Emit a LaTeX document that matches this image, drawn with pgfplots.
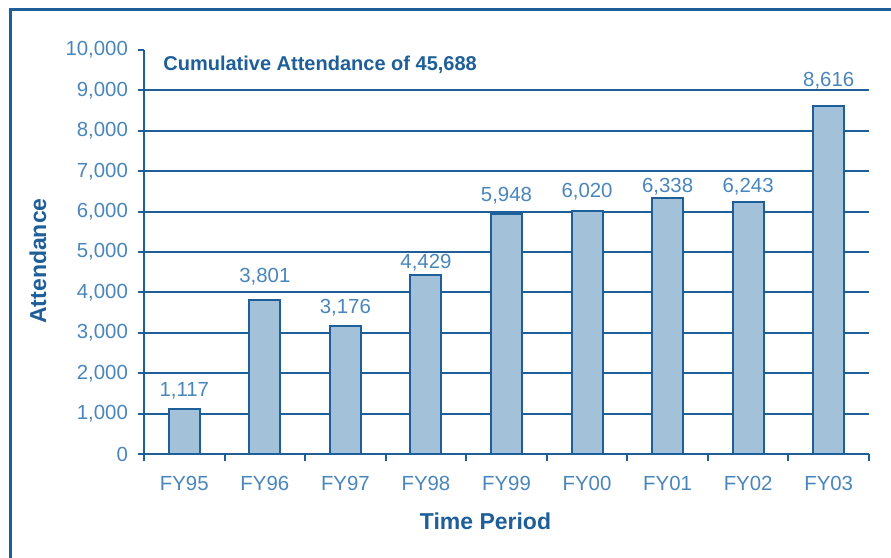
\documentclass[border=0pt]{standalone}
\usepackage{fontspec}
\setmainfont{Liberation Sans}
\usepackage{pgfplots}
\usepackage{pgfplotstable}
\pgfplotsset{compat=1.18}
\definecolor{axblue}{HTML}{1F5F99}
\definecolor{txtblue}{HTML}{4A86BC}
\definecolor{barfill}{HTML}{A3C2D9}
\pgfplotstableread{
x y off
0 1117 0.8
1 3801 3.7
2 3176 1.0
3 4429 -1.65
4 5948 1.15
5 6020 1.3
6 6338 -2.5
7 6243 -0.5
8 8616 4.5
}\data
\begin{document}
\begin{tikzpicture}
\useasboundingbox (0,0) rectangle (445.5pt,279pt);
\fill[white] (0,0) rectangle (445.5pt,279pt);
\draw[axblue, line width=1.5pt] (5pt,-10pt) -- (5pt,274pt) -- (460pt,274pt);
\begin{axis}[
  at={(72pt,52pt)}, anchor=south west,
  scale only axis, width=362.5pt, height=202pt,
  xmin=-0.5, xmax=8.5, ymin=0, ymax=10000,
  scaled y ticks=false,
  axis lines=left, axis line style={-, axblue, line width=1pt},
  xtick={0,...,8},
  xticklabels={FY95,FY96,FY97,FY98,FY99,FY00,FY01,FY02,FY03},
  major x tick style={draw=none},
  minor xtick={-0.5,0.5,1.5,2.5,3.5,4.5,5.5,6.5,7.5,8.5},
  tick align=outside,
  major tick length=3pt, minor tick length=3.5pt,
  tick style={axblue, line width=1pt},
  ytick={0,1000,...,10000},
  extra y ticks={1000,2000,3000,4000,5000,6000,7000,8000,9000},
  extra y tick labels={},
  extra y tick style={grid=major, major tick length=0pt},
  grid style={axblue, line width=1pt},
  ticklabel style={txtblue, font=\fontsize{10.2}{12}\selectfont},
  xticklabel style={yshift=-4.5pt},
  yticklabel style={xshift=-1.5pt},
  /pgf/number format/.cd, 1000 sep={,}, assume math mode=true,
]
\addplot[ybar, bar width=15.5pt, fill=barfill, draw=axblue, line width=1pt,
  visualization depends on={\thisrow{off} \as \myoff},
  nodes near coords,
  nodes near coords style={txtblue, font=\fontsize{10.2}{12}\selectfont, yshift=\myoff pt}]
  table[x=x, y=y] {\data};
\end{axis}
\node[rotate=90, font=\bfseries\fontsize{11.5}{14}\selectfont, text=axblue] at (19pt,148.5pt) {Attendance};
\node[font=\bfseries\fontsize{11.5}{14}\selectfont, text=axblue] at (242.75pt,18.5pt) {Time Period};
\node[anchor=west, inner sep=0pt, font=\bfseries\fontsize{10}{12}\selectfont, text=axblue] at (81.5pt,246.5pt) {Cumulative Attendance of 45,688};
\end{tikzpicture}
\end{document}
